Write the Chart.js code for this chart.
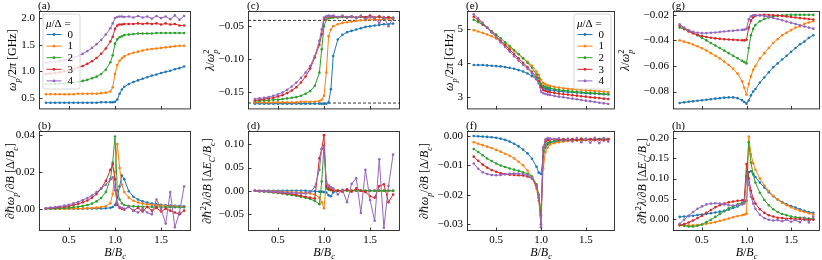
<!DOCTYPE html>
<html><head><meta charset="utf-8">
<script src="https://cdn.jsdelivr.net/npm/chart.js@4.4.0/dist/chart.umd.min.js"></script>
<style>
html,body{margin:0;padding:0;background:#fff;}
#wrap{position:relative;width:822px;height:260px;overflow:hidden;background:#fff;}
canvas{position:absolute;}
</style></head><body><div id="wrap"></div>
<script>
// ---------------- DATA ----------------
const B = [0.25,0.30,0.35,0.40,0.45,0.50,0.55,0.60,0.65,0.70,0.75,0.80,0.85,0.90,0.95,0.975,1.00,1.025,1.05,1.075,1.10,1.15,1.20,1.25,1.30,1.35,1.40,1.45,1.50,1.55,1.60,1.65,1.70,1.75];
const muLabels = ['0','1','2','3','4'];
const xTicks = [0.5,1.0,1.5];

// (a) omega_p/2pi [GHz]
const a0 = [0.41,0.41,0.41,0.41,0.41,0.41,0.41,0.41,0.41,0.41,0.41,0.41,0.42,0.42,0.42, 0.42,0.43,0.47,0.58,0.66,0.71, 0.76,0.80,0.83,0.86,0.89,0.92,0.94,0.97,0.99,1.01,1.04,1.06,1.09];
const a1 = [0.57,0.57,0.57,0.57,0.57,0.57,0.57,0.58,0.58,0.58,0.58,0.58,0.59,0.60,0.62, 0.70,0.95,1.12,1.20,1.25,1.28, 1.32,1.35,1.37,1.39,1.41,1.42,1.43,1.44,1.45,1.46,1.47,1.48,1.48];
const a2 = [0.76,0.76,0.76,0.77,0.77,0.78,0.79,0.80,0.82,0.84,0.87,0.90,0.95,1.03,1.17, 1.30,1.52,1.60,1.64,1.66,1.68, 1.69,1.70,1.71,1.71,1.71,1.71,1.72,1.72,1.72,1.72,1.72,1.72,1.72];
const a3 = [0.95,0.96,0.97,0.98,1.00,1.02,1.04,1.07,1.10,1.14,1.19,1.25,1.33,1.43,1.56, 1.65,1.80,1.86,1.88,1.88,1.89, 1.89,1.89,1.90,1.89,1.90,1.89,1.90,1.88,1.90,1.88,1.89,1.86,1.86];
const a4 = [1.16,1.17,1.18,1.19,1.21,1.23,1.26,1.29,1.33,1.38,1.44,1.51,1.59,1.69,1.81, 1.90,2.00,2.02,2.03,2.03,2.02, 2.03,2.01,2.04,2.01,2.03,1.99,2.04,2.00,2.03,1.98,2.05,1.97,2.04];
const aTicks = [0.5,1.0,1.5,2.0];

// (b) d(hbar omega_p)/dB
const b0 = [0,0,0,0,0,0,0,0,0,0.0001,0.0001,0.0002,0.0002,0.0003,0.0005, 0.001,0.002,0.006,0.012,0.018,0.016, 0.0095,0.0065,0.005,0.004,0.0033,0.0028,0.0024,0.0021,0.0019,0.0017,0.0016,0.0015,0.0014];
const b1 = [0,0,0,0,0,0,0.0001,0.0001,0.0002,0.0003,0.0004,0.0006,0.0009,0.0014,0.003, 0.008,0.020,0.035,0.022,0.013,0.009, 0.006,0.0043,0.0034,0.0028,0.0024,0.0021,0.0019,0.0017,0.0015,0.0014,0.0013,0.0012,0.0011];
const b2 = [0,0.0001,0.0002,0.0003,0.0004,0.0006,0.0008,0.0011,0.0015,0.002,0.0028,0.004,0.0058,0.009,0.016, 0.025,0.039,0.010,0.005,0.003,0.002, 0.0015,0.0013,0.0012,0.0011,0.001,0.001,0.001,0.0009,0.0009,0.0009,0.0008,0.0008,0.0008];
const b3 = [0.0002,0.0004,0.0006,0.0008,0.0011,0.0015,0.002,0.0027,0.0035,0.0045,0.006,0.008,0.011,0.015,0.021, 0.024,0.016,0.002,0.0005,0.0,-0.0005, 0.001,-0.001,0.0005,-0.0015,0.001,-0.001,0.0005,-0.0015,0.0,-0.001,-0.002,-0.003,-0.001];
const b4 = [0.0003,0.0006,0.0009,0.0012,0.0017,0.0022,0.0029,0.0037,0.0047,0.0058,0.0072,0.009,0.011,0.013,0.016, 0.017,0.010,0.003,0.001,0.0005,0.0, 0.001,-0.001,-0.002,0.0,-0.002,-0.003,0.005,0.0,-0.008,0.009,-0.010,-0.002,0.012];
const bTicks = [0.00,0.02,0.04];

// (c) lambda/omega_p^2
const c0 = [-0.167,-0.167,-0.167,-0.167,-0.167,-0.167,-0.167,-0.167,-0.167,-0.167,-0.167,-0.167,-0.167,-0.167,-0.167, -0.167,-0.167,-0.167,-0.165,-0.145,-0.095, -0.070,-0.063,-0.059,-0.057,-0.055,-0.053,-0.051,-0.050,-0.049,-0.048,-0.047,-0.047,-0.046];
const c1 = [-0.165,-0.165,-0.165,-0.165,-0.165,-0.165,-0.165,-0.165,-0.165,-0.165,-0.164,-0.164,-0.164,-0.164,-0.163, -0.161,-0.155,-0.120,-0.065,-0.055,-0.050, -0.047,-0.045,-0.044,-0.043,-0.042,-0.041,-0.041,-0.040,-0.040,-0.040,-0.039,-0.039,-0.039];
const c2 = [-0.163,-0.163,-0.162,-0.162,-0.161,-0.161,-0.160,-0.159,-0.158,-0.157,-0.155,-0.152,-0.148,-0.140,-0.120, -0.085,-0.050,-0.040,-0.038,-0.037,-0.037, -0.037,-0.036,-0.037,-0.036,-0.037,-0.036,-0.037,-0.036,-0.037,-0.036,-0.037,-0.037,-0.037];
const c3 = [-0.162,-0.161,-0.160,-0.159,-0.158,-0.156,-0.154,-0.151,-0.147,-0.142,-0.135,-0.126,-0.114,-0.097,-0.078, -0.062,-0.040,-0.036,-0.035,-0.036,-0.035, -0.036,-0.035,-0.036,-0.035,-0.037,-0.035,-0.036,-0.034,-0.037,-0.035,-0.038,-0.036,-0.038];
const c4 = [-0.160,-0.159,-0.158,-0.157,-0.155,-0.153,-0.150,-0.146,-0.141,-0.135,-0.128,-0.120,-0.110,-0.095,-0.072, -0.055,-0.037,-0.035,-0.034,-0.035,-0.034, -0.036,-0.034,-0.037,-0.035,-0.038,-0.034,-0.040,-0.036,-0.038,-0.045,-0.036,-0.050,-0.038];
const cTicks = [-0.15,-0.10,-0.05];
const cRefLines = [-0.0412,-0.166];

// (d) d(hbar^2 lambda)/dB
const d0 = [0,0,0,0,0,0,0,0,0,0,0,0,-0.001,-0.001,-0.002, -0.002,-0.003,-0.004,-0.010,-0.012,-0.004, 0.0,0.001,0.001,0.0,0.001,0.0,0.0,0.0,0.0,0.0,0.0,0.0,0.0];
const d1 = [0,0,-0.001,-0.001,-0.001,-0.002,-0.002,-0.003,-0.003,-0.004,-0.004,-0.005,-0.006,-0.008,-0.015, -0.025,-0.038,0.020,0.012,0.005,0.003, 0.001,0.001,0.0,0.0,0.0,0.0,0.0,0.0,0.0,0.0,0.0,0.0,0.0];
const d2 = [0,-0.001,-0.002,-0.003,-0.004,-0.005,-0.006,-0.008,-0.009,-0.011,-0.013,-0.015,-0.018,-0.022,-0.029, 0.020,0.097,0.005,0.002,0.001,0.0, 0.0,0.0,0.0,0.0,0.0,0.0,0.0,0.0,0.0,0.0,0.0,0.0,0.0];
const d3 = [0,-0.001,-0.001,-0.002,-0.003,-0.004,-0.005,-0.006,-0.007,-0.009,-0.011,-0.013,-0.015,-0.017,0.070, 0.090,0.120,0.010,0.005,0.002,0.0, 0.0,-0.002,0.003,-0.002,0.005,0.0,-0.003,-0.012,-0.015,0.010,0.014,-0.025,-0.008];
const d4 = [0,-0.001,-0.001,-0.002,-0.002,-0.003,-0.003,-0.004,-0.005,-0.005,-0.006,-0.006,-0.003,0.008,0.045, 0.090,0.095,0.015,0.010,0.008,0.005, -0.008,0.002,-0.025,0.015,0.027,-0.048,0.045,-0.020,-0.065,0.068,-0.080,0.010,0.078];
const dTicks = [-0.05,0.00,0.05,0.10];

// (e) omega_p/2pi [GHz]
const e0 = [3.94,3.94,3.94,3.93,3.92,3.91,3.90,3.88,3.86,3.83,3.79,3.75,3.69,3.61,3.52, 3.45,3.33,3.27,3.24,3.22,3.20, 3.18,3.16,3.15,3.14,3.13,3.12,3.11,3.10,3.09,3.09,3.08,3.07,3.07];
const e1 = [4.98,4.94,4.90,4.85,4.80,4.73,4.65,4.56,4.46,4.36,4.26,4.15,4.04,3.92,3.75, 3.65,3.50,3.41,3.37,3.34,3.32, 3.29,3.27,3.25,3.23,3.22,3.21,3.20,3.19,3.18,3.17,3.16,3.15,3.14];
const e2 = [5.29,5.22,5.14,5.05,4.95,4.85,4.74,4.62,4.51,4.39,4.27,4.14,4.01,3.86,3.66, 3.55,3.38,3.32,3.29,3.27,3.25, 3.22,3.20,3.18,3.17,3.15,3.14,3.13,3.12,3.11,3.10,3.09,3.08,3.07];
const e3 = [5.38,5.28,5.17,5.05,4.92,4.79,4.66,4.53,4.40,4.27,4.14,4.01,3.88,3.74,3.57, 3.45,3.28,3.20,3.17,3.15,3.13, 3.11,3.09,3.07,3.06,3.04,3.03,3.01,3.00,2.98,2.97,2.96,2.94,2.93];
const e4 = [5.45,5.33,5.20,5.06,4.92,4.77,4.62,4.48,4.34,4.20,4.07,3.95,3.83,3.69,3.52, 3.40,3.15,3.10,3.08,3.06,3.05, 3.02,3.00,2.98,2.96,2.94,2.92,2.90,2.88,2.86,2.84,2.82,2.80,2.78];
const eTicks = [3,4,5];

// (f) d(hbar omega_p)/dB
const f0 = [-0.0001,-0.0002,-0.0003,-0.0004,-0.0005,-0.0007,-0.0010,-0.0014,-0.0020,-0.0027,-0.0036,-0.0047,-0.0060,-0.0078,-0.0105, -0.0125,-0.0130,-0.0070,-0.0040,-0.0030,-0.0025, -0.0020,-0.0018,-0.0016,-0.0015,-0.0014,-0.0013,-0.0013,-0.0012,-0.0012,-0.0012,-0.0011,-0.0011,-0.0011];
const f1 = [-0.0022,-0.0027,-0.0032,-0.0037,-0.0042,-0.0048,-0.0054,-0.0061,-0.0068,-0.0077,-0.0088,-0.0100,-0.0118,-0.0140,-0.0180, -0.0220,-0.0250,-0.0110,-0.0055,-0.0040,-0.0030, -0.0025,-0.0022,-0.0020,-0.0018,-0.0017,-0.0016,-0.0015,-0.0014,-0.0014,-0.0013,-0.0013,-0.0012,-0.0012];
const f2 = [-0.0045,-0.0055,-0.0066,-0.0077,-0.0086,-0.0094,-0.0101,-0.0106,-0.0111,-0.0115,-0.0119,-0.0124,-0.0129,-0.0138,-0.0165, -0.0200,-0.0270,-0.0050,-0.0030,-0.0025,-0.0020, -0.0018,-0.0016,-0.0015,-0.0014,-0.0014,-0.0013,-0.0013,-0.0013,-0.0012,-0.0012,-0.0012,-0.0012,-0.0012];
const f3 = [-0.0071,-0.0085,-0.0098,-0.0108,-0.0116,-0.0122,-0.0127,-0.0130,-0.0132,-0.0133,-0.0134,-0.0135,-0.0138,-0.0145,-0.0170, -0.0210,-0.0300,-0.0040,-0.0020,-0.0015,-0.0013, -0.0012,-0.0014,-0.0011,-0.0014,-0.0011,-0.0015,-0.0010,-0.0014,-0.0011,-0.0015,-0.0012,-0.0016,-0.0012];
const f4 = [-0.0094,-0.0112,-0.0124,-0.0130,-0.0133,-0.0134,-0.0133,-0.0131,-0.0129,-0.0128,-0.0128,-0.0130,-0.0134,-0.0143,-0.0168, -0.0210,-0.0310,-0.0040,-0.0012,-0.0008,-0.0010, -0.0012,-0.0009,-0.0018,-0.0010,-0.0020,-0.0008,-0.0022,-0.0010,-0.0024,-0.0007,-0.0025,-0.0008,-0.0020];
const fTicks = [-0.03,-0.02,-0.01,0.00];

// (g) lambda/omega_p^2
const g0 = [-0.0890,-0.0885,-0.0880,-0.0876,-0.0872,-0.0868,-0.0864,-0.0860,-0.0856,-0.0852,-0.0848,-0.0846,-0.0846,-0.0852,-0.0868, -0.0882,-0.0895,-0.0870,-0.0830,-0.0800,-0.0780, -0.0730,-0.0690,-0.0650,-0.0610,-0.0580,-0.0550,-0.0520,-0.0490,-0.0460,-0.0430,-0.0410,-0.0380,-0.0360];
const g1 = [-0.0400,-0.0410,-0.0420,-0.0432,-0.0446,-0.0462,-0.0480,-0.0500,-0.0520,-0.0542,-0.0566,-0.0592,-0.0622,-0.0660,-0.0720, -0.0770,-0.0825,-0.0740,-0.0680,-0.0630,-0.0600, -0.0540,-0.0500,-0.0460,-0.0420,-0.0390,-0.0360,-0.0340,-0.0320,-0.0300,-0.0290,-0.0270,-0.0260,-0.0250];
const g2 = [-0.0300,-0.0310,-0.0325,-0.0340,-0.0360,-0.0380,-0.0400,-0.0420,-0.0440,-0.0460,-0.0480,-0.0500,-0.0520,-0.0540,-0.0560, -0.0570,-0.0580,-0.0460,-0.0360,-0.0310,-0.0280, -0.0250,-0.0232,-0.0220,-0.0212,-0.0207,-0.0204,-0.0202,-0.0200,-0.0200,-0.0200,-0.0200,-0.0200,-0.0200];
const g3 = [-0.0285,-0.0310,-0.0330,-0.0345,-0.0357,-0.0366,-0.0373,-0.0379,-0.0384,-0.0388,-0.0391,-0.0393,-0.0395,-0.0397,-0.0399, -0.0400,-0.0395,-0.0300,-0.0245,-0.0220,-0.0208, -0.0202,-0.0200,-0.0201,-0.0203,-0.0206,-0.0209,-0.0213,-0.0217,-0.0221,-0.0225,-0.0229,-0.0233,-0.0237];
const g4 = [-0.0275,-0.0300,-0.0320,-0.0333,-0.0340,-0.0343,-0.0343,-0.0341,-0.0338,-0.0334,-0.0330,-0.0327,-0.0324,-0.0321,-0.0318, -0.0316,-0.0310,-0.0235,-0.0212,-0.0204,-0.0202, -0.0205,-0.0210,-0.0217,-0.0225,-0.0233,-0.0242,-0.0252,-0.0262,-0.0272,-0.0282,-0.0291,-0.0300,-0.0308];
const gTicks = [-0.08,-0.06,-0.04,-0.02];

// (h) d(hbar^2 lambda)/dB
const h0 = [0.005,0.006,0.007,0.008,0.0095,0.011,0.0125,0.014,0.016,0.018,0.020,0.023,0.027,0.031,0.037, 0.041,0.045,0.116,0.118,0.112,0.104, 0.090,0.078,0.066,0.056,0.048,0.042,0.036,0.032,0.028,0.024,0.020,0.017,0.015];
const h1 = [-0.015,-0.016,-0.016,-0.016,-0.015,-0.014,-0.012,-0.010,-0.008,-0.005,-0.002,0.001,0.004,0.007,0.009, 0.011,0.013,0.204,0.160,0.138,0.122, 0.100,0.083,0.069,0.057,0.048,0.040,0.034,0.029,0.024,0.020,0.017,0.014,0.011];
const h2 = [-0.014,-0.017,-0.019,-0.019,-0.017,-0.014,-0.008,-0.002,0.005,0.012,0.019,0.026,0.031,0.036,0.040, 0.042,0.105,0.190,0.140,0.110,0.090, 0.065,0.047,0.034,0.024,0.017,0.012,0.009,0.006,0.004,0.003,0.002,0.001,0.000];
const h3 = [-0.016,-0.013,-0.009,-0.004,0.002,0.008,0.015,0.022,0.029,0.034,0.038,0.041,0.043,0.045,0.046, 0.047,0.136,0.100,0.070,0.050,0.038, 0.024,0.015,0.009,0.006,0.003,0.002,0.000,0.001,-0.001,0.000,-0.002,-0.002,-0.002];
const h4 = [-0.012,-0.002,0.008,0.017,0.025,0.031,0.036,0.038,0.039,0.038,0.036,0.034,0.033,0.034,0.036, 0.038,0.100,0.085,0.055,0.038,0.025, 0.010,0.002,-0.002,-0.004,-0.003,-0.006,-0.002,-0.007,-0.003,-0.008,0.003,-0.009,0.006];
const hTicks = [0.00,0.05,0.10,0.15,0.20];

// ---------------- STYLE / LAYOUT ----------------
const COLORS = ['#1f77b4','#ff7f0e','#2ca02c','#d62728','#9467bd'];
const FAM = '"Liberation Serif","DejaVu Serif",serif';
const TICK_SIZE = 11, TITLE_SIZE = 12;

const T_W  = [{t:'ω',it:1},{t:'p',it:1,sub:1},{t:'/2'},{t:'π',it:1},{t:' [GHz]'}];
const T_DW = [{t:'∂ℏ'},{t:'ω',it:1},{t:'p',it:1,sub:1},{t:'/∂'},{t:'B',it:1},{t:' [Δ/'},{t:'B',it:1},{t:'c',it:1,sub:1},{t:']'}];
const T_L  = [{t:'λ',it:1},{t:'/'},{t:'ω',it:1},{t:'p',it:1,sub:1},{t:'2',sup:1,back:1}];
const T_DL = [{t:'∂ℏ'},{t:'2',sup:1},{t:'λ',it:1},{t:'/∂'},{t:'B',it:1},{t:' [Δ'},{t:'E',it:1},{t:'C',it:1,sub:1},{t:'/'},{t:'B',it:1},{t:'c',it:1,sub:1},{t:']'}];
const T_X  = [{t:'B',it:1},{t:'/'},{t:'B',it:1},{t:'c',it:1,sub:1}];
const T_LEG = [{t:'μ',it:1},{t:'/Δ ='}];

const ROWS = [{t:11,b:112,ct:0,ch:120},{t:131,b:231,ct:118,ch:142}];
const panels = [
 {key:'(a)',series:[a0,a1,a2,a3,a4],l:39,r:191,row:0,ymin:0.285,ymax:2.133,ticks:aTicks,dec:1,title:T_W,tgap:27,legend:'left'},
 {key:'(b)',series:[b0,b1,b2,b3,b4],l:39,r:191,row:1,ymin:-0.012,ymax:0.042,ticks:bTicks,dec:2,title:T_DW,tgap:29},
 {key:'(c)',series:[c0,c1,c2,c3,c4],l:248,r:400,row:0,ymin:-0.1756,ymax:-0.027,ticks:cTicks,dec:2,title:T_L,tgap:38,hlines:cRefLines},
 {key:'(d)',series:[d0,d1,d2,d3,d4],l:248,r:400,row:1,ymin:-0.087,ymax:0.129,ticks:dTicks,dec:2,title:T_DL,tgap:41},
 {key:'(e)',series:[e0,e1,e2,e3,e4],l:467,r:615,row:0,ymin:2.62,ymax:5.55,ticks:eTicks,dec:0,title:T_W,tgap:18,legend:'right'},
 {key:'(f)',series:[f0,f1,f2,f3,f4],l:467,r:615,row:1,ymin:-0.0323,ymax:0.0016,ticks:fTicks,dec:2,title:T_DW,tgap:43},
 {key:'(g)',series:[g0,g1,g2,g3,g4],l:673,r:820,row:0,ymin:-0.094,ymax:-0.017,ticks:gTicks,dec:2,title:T_L,tgap:48},
 {key:'(h)',series:[h0,h1,h2,h3,h4],l:673,r:820,row:1,ymin:-0.030,ymax:0.218,ticks:hTicks,dec:2,title:T_DL,tgap:31}
];

function fmtNum(v,dec){ const s=Math.abs(v).toFixed(dec); return (v < -1e-12 ? '\u2212' : '') + s; }
function fnt(s,size){ const sz=(s.sub||s.sup)?size*0.7:size; return (s.it?'italic ':'')+sz.toFixed(1)+'px '+FAM; }
function layoutRich(ctx,segs,size){
  let x=0,ps=0,pe=0; const items=[];
  for(const s of segs){
    ctx.font=fnt(s,size); const w=ctx.measureText(s.t).width;
    const sx = s.back ? ps : x;
    items.push({s,x:sx});
    if(s.back){ x=Math.max(pe,sx+w); } else { ps=sx; pe=sx+w; x=sx+w; }
  }
  return {items,width:x};
}
function drawRich(ctx,segs,size,x,y,align){
  const L=layoutRich(ctx,segs,size);
  const x0 = align==='center' ? x-L.width/2 : x;
  ctx.textAlign='left'; ctx.textBaseline='alphabetic';
  for(const it of L.items){
    ctx.font=fnt(it.s,size);
    const dy = it.s.sub ? size*0.28 : (it.s.sup ? -size*0.42 : 0);
    ctx.fillText(it.s.t,x0+it.x,y+dy);
  }
}
function drawLegend(ctx,x,y){
  const w=37,h=75,rr=2.5;
  ctx.save();
  ctx.beginPath();
  ctx.moveTo(x+rr,y); ctx.lineTo(x+w-rr,y); ctx.quadraticCurveTo(x+w,y,x+w,y+rr);
  ctx.lineTo(x+w,y+h-rr); ctx.quadraticCurveTo(x+w,y+h,x+w-rr,y+h);
  ctx.lineTo(x+rr,y+h); ctx.quadraticCurveTo(x,y+h,x,y+h-rr);
  ctx.lineTo(x,y+rr); ctx.quadraticCurveTo(x,y,x+rr,y); ctx.closePath();
  ctx.fillStyle='rgba(255,255,255,0.8)'; ctx.fill();
  ctx.strokeStyle='#cccccc'; ctx.lineWidth=0.8; ctx.stroke();
  ctx.fillStyle='#000';
  drawRich(ctx,T_LEG,TICK_SIZE,x+3,y+12.5,'left');
  for(let i=0;i<5;i++){
    const yy=y+20.5+i*11.6;
    ctx.strokeStyle=COLORS[i]; ctx.lineWidth=1;
    ctx.beginPath(); ctx.moveTo(x+3.5,yy); ctx.lineTo(x+18.5,yy); ctx.stroke();
    ctx.fillStyle=COLORS[i]; ctx.beginPath(); ctx.arc(x+11,yy,1.4,0,Math.PI*2); ctx.fill();
    ctx.fillStyle='#000'; ctx.font=TICK_SIZE+'px '+FAM; ctx.textAlign='left'; ctx.textBaseline='middle';
    ctx.fillText(muLabels[i],x+24.5,yy+0.5);
  }
  ctx.restore();
}
function makeDeco(p){
  return {
    id:'deco',
    beforeDatasetsDraw(chart){
      if(!p.hlines) return;
      const ctx=chart.ctx, ca=chart.chartArea, ys=chart.scales.y;
      ctx.save(); ctx.strokeStyle='#000'; ctx.lineWidth=0.8; ctx.setLineDash([3,2]);
      for(const v of p.hlines){ const py=ys.getPixelForValue(v); ctx.beginPath(); ctx.moveTo(ca.left,py); ctx.lineTo(ca.right,py); ctx.stroke(); }
      ctx.restore();
    },
    afterDraw(chart){
      const ctx=chart.ctx, ca=chart.chartArea, xs=chart.scales.x, ys=chart.scales.y;
      ctx.save();
      ctx.strokeStyle='#222'; ctx.lineWidth=0.9;
      ctx.strokeRect(ca.left+0.5,ca.top+0.5,ca.right-ca.left-1,ca.bottom-ca.top-1);
      ctx.beginPath();
      for(const t of xs.ticks){ const px=Math.round(xs.getPixelForValue(t.value))+0.5; ctx.moveTo(px,ca.bottom); ctx.lineTo(px,ca.bottom-3.5); }
      for(const t of ys.ticks){ const py=Math.round(ys.getPixelForValue(t.value))+0.5; ctx.moveTo(ca.left,py); ctx.lineTo(ca.left+3.5,py); }
      ctx.stroke();
      ctx.fillStyle='#000';
      ctx.font=TICK_SIZE+'px '+FAM; ctx.textAlign='left'; ctx.textBaseline='alphabetic';
      ctx.fillText(p.key,ca.left-1,ca.top-2.5);
      ctx.save();
      ctx.translate(ca.left-p.tgap,(ca.top+ca.bottom)/2);
      ctx.rotate(-Math.PI/2);
      drawRich(ctx,p.title,TITLE_SIZE,0,TITLE_SIZE*0.35,'center');
      ctx.restore();
      if(p.row===1){ drawRich(ctx,T_X,TITLE_SIZE,(ca.left+ca.right)/2,chart.height-4,'center'); }
      if(p.legend==='left') drawLegend(ctx,ca.left+4,ca.top+3);
      if(p.legend==='right') drawLegend(ctx,ca.right-41,ca.top+3);
      ctx.restore();
    }
  };
}

const wrap=document.getElementById('wrap');
for(const p of panels){
  const R=ROWS[p.row];
  const cl=Math.max(0,p.l-58), cw=p.r+2-cl;
  const cv=document.createElement('canvas');
  cv.width=cw; cv.height=R.ch; cv.style.left=cl+'px'; cv.style.top=R.ct+'px';
  cv.style.width=cw+'px'; cv.style.height=R.ch+'px';
  wrap.appendChild(cv);
  const W=p.l-cl, H=R.ct+R.ch-R.b;
  const datasets=p.series.map((s,i)=>({
    label:muLabels[i],
    data:B.map((x,j)=>({x:x,y:s[j]})),
    borderColor:COLORS[i], backgroundColor:COLORS[i], pointBackgroundColor:COLORS[i],
    borderWidth:1, pointRadius:1.3, pointBorderWidth:0, pointHoverRadius:0, tension:0, order:4-i
  }));
  new Chart(cv,{
    type:'line',
    data:{datasets},
    options:{
      responsive:false, animation:false, devicePixelRatio:1,
      layout:{padding:{left:0,right:cl+cw-p.r,top:R.t-R.ct,bottom:0}},
      plugins:{legend:{display:false},tooltip:{enabled:false}},
      events:[],
      scales:{
        x:{type:'linear',min:0.175,max:1.825,
           afterBuildTicks:s=>{s.ticks=xTicks.map(v=>({value:v}));},
           afterFit:s=>{s.height=H;},
           grid:{display:false,drawTicks:false,tickLength:0},border:{display:false},
           ticks:{display:p.row===1,color:'#000',font:{family:FAM,size:TICK_SIZE},padding:3,maxRotation:0,callback:v=>fmtNum(v,1)}},
        y:{type:'linear',min:p.ymin,max:p.ymax,
           afterBuildTicks:s=>{s.ticks=p.ticks.map(v=>({value:v}));},
           afterFit:s=>{s.width=W;},
           grid:{display:false,drawTicks:false,tickLength:0},border:{display:false},
           ticks:{color:'#000',font:{family:FAM,size:TICK_SIZE},padding:4,callback:v=>fmtNum(v,p.dec)}}
      }
    },
    plugins:[makeDeco(p)]
  });
}
</script></body></html>
